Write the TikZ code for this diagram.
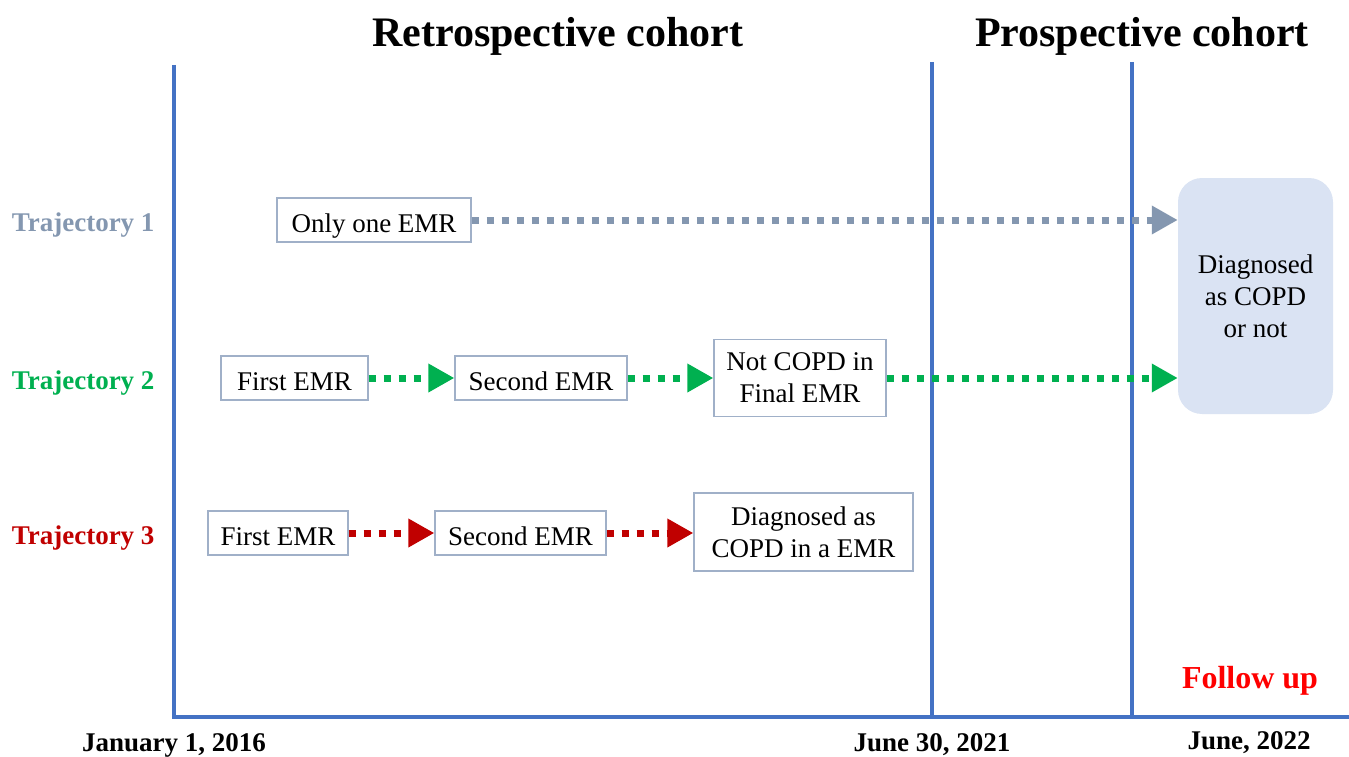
\documentclass[tikz,border=0pt]{standalone}
\usepackage{fontspec}
\setmainfont{Liberation Serif}
\usetikzlibrary{arrows.meta}
\definecolor{axisblue}{RGB}{68,114,196}
\definecolor{tone}{RGB}{132,151,176}
\definecolor{ttwo}{RGB}{0,176,80}
\definecolor{tthree}{RGB}{192,0,0}
\definecolor{boxline}{RGB}{160,176,200}
\definecolor{bigfill}{RGB}{218,227,243}
\tikzset{
  axis/.style={draw=axisblue, line width=4pt},
  emr/.style={draw=boxline, line width=1.2pt, fill=white, font=\fontsize{27}{32}\selectfont, align=center, inner sep=0pt},
  oneline/.style={text height=24pt, text depth=0pt},
  traj/.style={font=\fontsize{27}{30}\selectfont\bfseries, anchor=east},
  datel/.style={font=\fontsize{27}{30}\selectfont\bfseries},
  titl/.style={font=\fontsize{42}{46}\selectfont\bfseries},
  flow/.style={line width=7pt, dash pattern=on 7pt off 8pt, -{Triangle[length=26pt,width=27pt]}},
}
\begin{document}
\begin{tikzpicture}[x=1pt,y=-1pt]
\useasboundingbox (0,0) rectangle (1349,757);
% axes
\coordinate (o) at (174,717);
\coordinate (top1) at (174,65);
\coordinate (xend) at (1349,717);
\coordinate (v2t) at (932,62);
\coordinate (v2b) at (932,717);
\coordinate (v3t) at (1132,62);
\coordinate (v3b) at (1132,717);
\draw[axis] (top1) -- (o) -- (xend);
\draw[axis] (v2t) -- (v2b);
\draw[axis] (v3t) -- (v3b);
% titles
\node[titl] (retro) at (558,36) {Retrospective cohort};
\node[titl] (prosp) at (1142,36) {Prospective cohort};
% trajectory labels
\node[traj, text=tone] (t1) at (158,225) {Trajectory 1};
\node[traj, text=ttwo] (t2) at (158,383) {Trajectory 2};
\node[traj, text=tthree] (t3) at (158,538) {Trajectory 3};
% big box
\node[fill=bigfill, rounded corners=24pt, minimum width=155pt, minimum height=236pt, align=center, font=\fontsize{27}{32}\selectfont] (diag) at (1255.5,296) {Diagnosed\\as COPD\\or not};
% trajectory 1
\node[emr, oneline, minimum width=194pt, minimum height=44pt] (a1) at (374,220) {Only one EMR};
\draw[flow, tone] (a1.east) -- (diag.west |- a1.east);
% trajectory 2
\node[emr, oneline, minimum width=147pt, minimum height=44pt] (b1) at (294.5,378) {First EMR};
\node[emr, oneline, minimum width=172pt, minimum height=44pt] (b2) at (541,378) {Second EMR};
\node[emr, minimum width=172pt, minimum height=77pt] (b3) at (800,378) {Not COPD in\\Final EMR};
\draw[flow, ttwo] (b1.east) -- (b2.west);
\draw[flow, ttwo] (b2.east) -- (b3.west |- b2.east);
\draw[flow, ttwo] (b3.east |- b2.east) -- (diag.west |- b2.east);
% trajectory 3
\node[emr, oneline, minimum width=140pt, minimum height=44pt] (c1) at (278,533) {First EMR};
\node[emr, oneline, minimum width=171pt, minimum height=44pt] (c2) at (520.5,533) {Second EMR};
\node[emr, minimum width=219pt, minimum height=78pt] (c3) at (803.5,532) {Diagnosed as\\COPD in a EMR};
\draw[flow, tthree] (c1.east) -- (c2.west);
\draw[flow, tthree] (c2.east) -- (c3.west |- c2.east);
% dates
\node[datel] (d1) at (174,745) {January 1, 2016};
\node[datel] (d2) at (932,745) {June 30, 2021};
\node[datel] (d3) at (1249,743) {June, 2022};
\node[font=\fontsize{32}{36}\selectfont\bfseries, text=red] (fu) at (1250,681) {Follow up};
\end{tikzpicture}
\end{document}
